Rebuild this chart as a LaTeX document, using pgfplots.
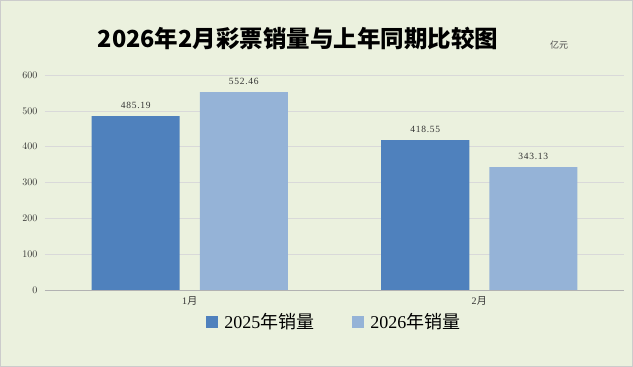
\documentclass[border=0pt]{standalone}
\usepackage{fontspec}
\setmainfont{Liberation Serif}
\newfontfamily\cjk{Noto Sans CJK SC}
\newfontfamily\datafont[LetterSpace=8]{Liberation Serif}
\usepackage{pgfplots}
\pgfplotsset{compat=1.18}
\definecolor{bg}{HTML}{EBF1DE}
\definecolor{cA}{HTML}{4F81BD}
\definecolor{cB}{HTML}{95B3D7}
\begin{document}
\begin{tikzpicture}[x=1pt,y=1pt]
\fill[bg] (0,0) rectangle (633,367);
\draw[gray!40] (0.5,0.5) rectangle (632.5,366.5);
\path[use as bounding box] (0,0) rectangle (633,367);
\node[font=\cjk\bfseries\fontsize{23.5}{23.5}\selectfont] at (298,329) {2026年2月彩票销量与上年同期比较图};
\node[font=\cjk\fontsize{9}{9}\selectfont, text=black!70] at (559,322) {亿元};
\begin{axis}[
  at={(45pt,77pt)}, anchor=south west, scale only axis,
  width=579pt, height=215pt,
  ymin=0, ymax=600, ytick={0,100,...,600},
  xmin=-0.5, xmax=1.5, xtick={0,1},
  xticklabels={{1{\cjk 月}},{2{\cjk 月}}},
  ybar=20pt, bar width=88pt,
  ymajorgrids, grid style={color=gray!30},
  axis x line=bottom, axis y line=left,
  y axis line style={draw=none}, x axis line style={-, gray!60},
  major tick length=0pt,
  enlargelimits=false,
  ticklabel style={font=\fontsize{10}{10}\selectfont, text=black!80},
  yticklabel style={xshift=-4pt},
  xticklabel style={yshift=-3pt},
  nodes near coords, point meta=explicit symbolic,
  nodes near coords style={font=\datafont\fontsize{9.5}{9.5}\selectfont, text=black!80, yshift=4pt},
  legend columns=2,
  legend style={at={(0.5,-0.149)}, anchor=center, draw=none, fill=none,
    font=\fontsize{18}{18}\selectfont,
    /tikz/every odd column/.append style={column sep=4pt},
    /tikz/every even column/.append style={column sep=36pt}},
  legend image code/.code={\draw[#1, draw=none] (0pt,-6pt) rectangle (12pt,6pt);},
]
\addplot[fill=cA, draw=none] coordinates {(0,485.19)[485.19] (1,418.55)[418.55]};
\addplot[fill=cB, draw=none] coordinates {(0,552.46)[552.46] (1,343.13)[343.13]};
\legend{2025{\cjk 年销量}, 2026{\cjk 年销量}}
\end{axis}
\end{tikzpicture}
\end{document}
